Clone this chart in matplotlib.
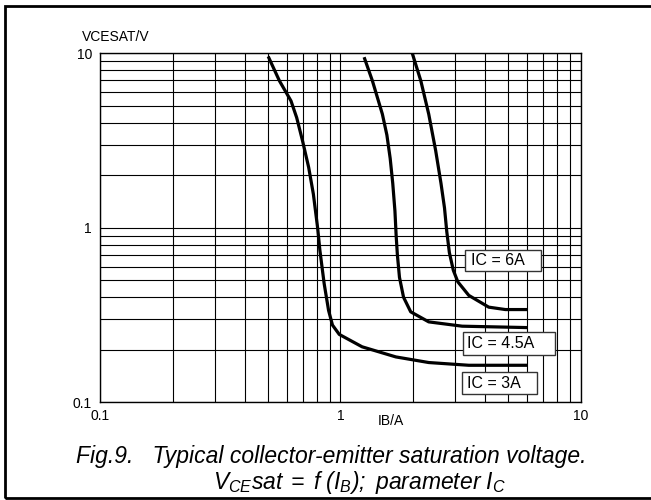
import matplotlib
matplotlib.use("Agg")
import matplotlib.pyplot as plt
from matplotlib.patches import Rectangle
from matplotlib.ticker import LogLocator, NullFormatter, FixedLocator, FixedFormatter

plt.rcParams['font.family'] = ['Liberation Sans', 'DejaVu Sans']
plt.rcParams['mathtext.fontset'] = 'custom'
plt.rcParams['mathtext.it'] = 'Liberation Sans:italic'
plt.rcParams['mathtext.rm'] = 'Liberation Sans:italic'

# IC = 3A
ib_3 = [0.50, 0.557, 0.622, 0.657, 0.695, 0.737, 0.771, 0.803, 0.821, 0.855, 0.892, 0.926, 0.988, 1.23, 1.70, 2.33, 3.42, 6.0]
v_3 = [9.6, 6.95, 5.34, 4.28, 3.15, 2.22, 1.56, 1.0, 0.74, 0.479, 0.336, 0.277, 0.245, 0.208, 0.182, 0.169, 0.163, 0.163]
# IC = 4.5A
ib_45 = [1.254, 1.358, 1.494, 1.56, 1.61, 1.65, 1.685, 1.705, 1.725, 1.76, 1.83, 1.96, 2.33, 3.21, 6.0]
v_45 = [9.5, 6.95, 4.48, 3.4, 2.5, 1.8, 1.25, 0.9, 0.7, 0.52, 0.40, 0.33, 0.289, 0.273, 0.268]
# IC = 6A
ib_6 = [1.99, 2.16, 2.33, 2.49, 2.62, 2.71, 2.77, 2.84, 2.95, 3.08, 3.42, 4.14, 4.86, 6.0]
v_6 = [10.0, 6.95, 4.48, 2.77, 1.8, 1.3, 0.95, 0.72, 0.57, 0.49, 0.41, 0.351, 0.34, 0.34]

labels = ["IC = 6A", "IC = 4.5A", "IC = 3A"]
x_ticks = [0.1, 1, 10]
x_ticklabels = ["0.1", "1", "10"]
y_ticks = [0.1, 1, 10]
y_ticklabels = ["0.1", "1", "10"]

W, H = 651, 500
AX_L, AX_R, AX_T, AX_B = 100.3, 580.7, 53.3, 402.3

fig = plt.figure(figsize=(6.51, 5.0), dpi=100)
ax = fig.add_axes([AX_L/W, 1-AX_B/H, (AX_R-AX_L)/W, (AX_B-AX_T)/H])
ax.set_xscale('log')
ax.set_yscale('log')
ax.set_xlim(0.1, 10)
ax.set_ylim(0.1, 10)

ax.xaxis.set_major_locator(FixedLocator(x_ticks))
ax.xaxis.set_major_formatter(FixedFormatter(x_ticklabels))
ax.yaxis.set_major_locator(FixedLocator(y_ticks))
ax.yaxis.set_major_formatter(FixedFormatter(y_ticklabels))
ax.xaxis.set_minor_locator(LogLocator(base=10, subs=range(2, 10)))
ax.yaxis.set_minor_locator(LogLocator(base=10, subs=range(2, 10)))
ax.xaxis.set_minor_formatter(NullFormatter())
ax.yaxis.set_minor_formatter(NullFormatter())
ax.grid(True, which='both', color='black', linewidth=0.8)
ax.tick_params(which='both', length=0, labelsize=10, pad=6)
ax.tick_params(axis='x', pad=5)
for s in ax.spines.values():
    s.set_color('black')
    s.set_linewidth(1.0)

for xs, ys in [(ib_3, v_3), (ib_45, v_45), (ib_6, v_6)]:
    ax.plot(xs, ys, color='black', linewidth=2.3, solid_capstyle='butt',
            solid_joinstyle='round', zorder=3)

def ax_frac(px, py):
    return (px - AX_L) / (AX_R - AX_L), (AX_B - py) / (AX_B - AX_T)

# label boxes (pixel geometry: left, top, right, bottom, text-left, text-center-y)
box_geom = [(465, 250, 540.7, 270.7, 471, 260.5),
            (462.7, 332.3, 555, 355, 467, 343.8),
            (461.7, 371.7, 537.3, 394.3, 467.5, 383.2)]
for lab, (l, t, r, b, tx, ty) in zip(labels, box_geom):
    x0, y0 = ax_frac(l, b)
    x1, y1 = ax_frac(r, t)
    ax.add_patch(Rectangle((x0, y0), x1 - x0, y1 - y0, transform=ax.transAxes,
                           facecolor='white', edgecolor='#333333', linewidth=1.0, zorder=4))
    fx, fy = ax_frac(tx, ty)
    ax.text(fx, fy, lab, transform=ax.transAxes, fontsize=11.5, ha='left', va='center', zorder=5)

fig.text(82/W, 1-37/H, "VCESAT/V", fontsize=10, ha='left', va='center')
fig.text(391/W, 1-421/H, "IB/A", fontsize=10, ha='center', va='center')

fig.text(331/W, 1-463/H, "Fig.9.   Typical collector-emitter saturation voltage.",
         fontsize=16.5, style='italic', ha='center', va='baseline')
fig.text(359/W, 1-489/H, r"$V_{CE}sat\;{=}\;f\ (I_B);\ parameter\ I_C$",
         fontsize=16.5, ha='center', va='baseline')

fig.patches.append(Rectangle((5/W, 1-498/H), 1.0, (498-6)/H, transform=fig.transFigure,
                             fill=False, edgecolor='black', linewidth=2.0))

fig.savefig("out.png", dpi=100)
